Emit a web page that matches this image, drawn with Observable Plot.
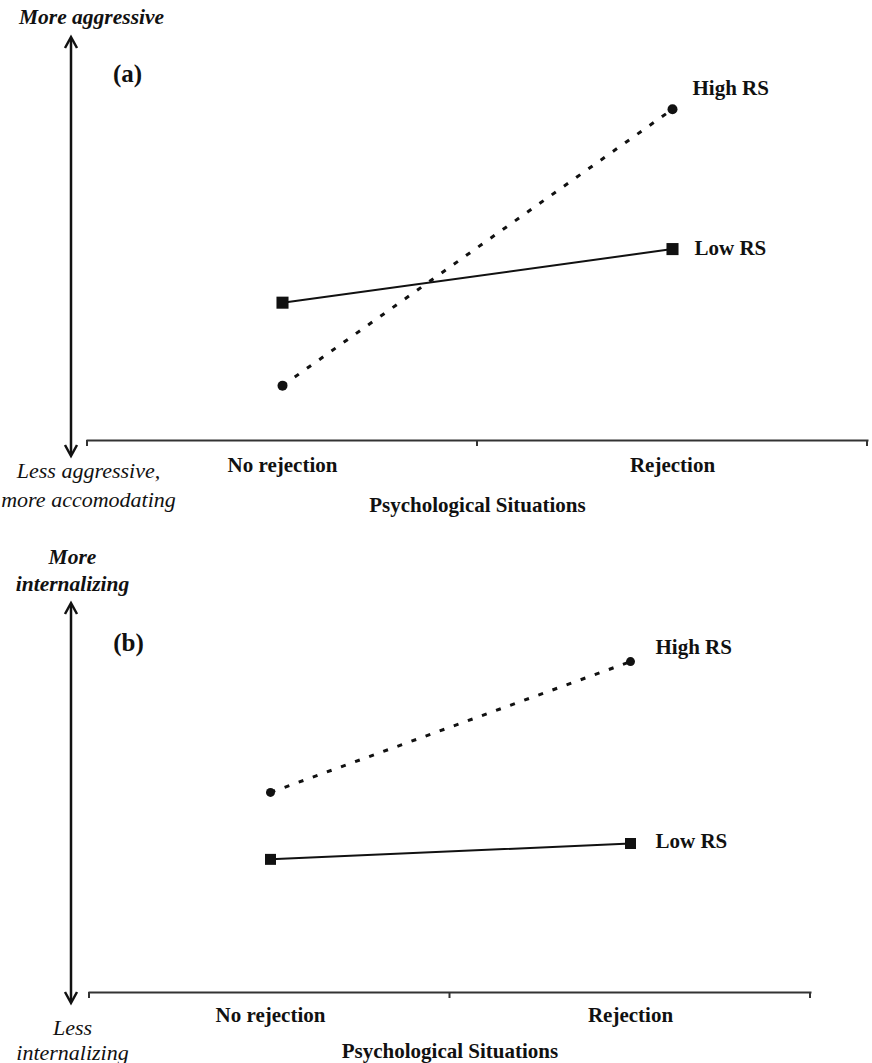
<!DOCTYPE html>
<html><head><meta charset="utf-8">
<script src="https://cdn.jsdelivr.net/npm/d3@7"></script>
<script src="https://cdn.jsdelivr.net/npm/@observablehq/plot@0.6"></script>
<style>
body{margin:0;background:#fff;}
#chart{width:872px;}
#chart svg{display:block;}
</style></head><body><div id="chart"></div>
<script>
// ---- data ----
const situations = ["No rejection", "Rejection"];
const groups = ["High RS", "Low RS"];
// Panel (a): aggressive vs accommodating responses
const aggHigh = [1.36, 8.22];
const aggLow = [3.42, 4.75];
// Panel (b): internalizing responses
const intHigh = [5.17, 8.55];
const intLow = [3.44, 3.85];
const panelNames = ["(a)", "(b)"];
const topLabels = ["More aggressive", "More\ninternalizing"];
const bottomLabels = ["Less aggressive,\nmore accomodating", "Less\ninternalizing"];
const xLabel = "Psychological Situations";

const FONT = "'Liberation Serif', 'Times New Roman', serif";
const INK = "#111";

function rows(high, low) {
  const out = [];
  situations.forEach((s, i) => {
    out.push({situation: s, group: groups[0], value: high[i]});
    out.push({situation: s, group: groups[1], value: low[i]});
  });
  return out;
}

function panel(cfg) {
  const data = rows(cfg.high, cfg.low);
  const hi = data.filter(d => d.group === groups[0]);
  const lo = data.filter(d => d.group === groups[1]);
  const last = data.filter(d => d.situation === situations[1]);
  const chart = Plot.plot({
    width: 872,
    height: cfg.height,
    marginLeft: cfg.ml, marginRight: cfg.mr, marginTop: cfg.mt, marginBottom: cfg.mb,
    style: {fontFamily: FONT, color: INK, background: "#fff", overflow: "visible"},
    x: {domain: situations, padding: 0, type: "band"},
    y: {domain: [0, 10], axis: null},
    marks: [
      Plot.axisX({tickSize: 0, tickPadding: cfg.tickPad, fontSize: 21, fontWeight: "bold", label: null, fill: INK}),
      Plot.frame({anchor: "bottom", stroke: "#333", strokeWidth: 2}),
      Plot.line(hi, {x: "situation", y: "value", stroke: INK, strokeWidth: 3, strokeDasharray: "5,10", strokeLinecap: "butt"}),
      Plot.line(lo, {x: "situation", y: "value", stroke: INK, strokeWidth: 2}),
      Plot.dot(hi, {x: "situation", y: "value", r: cfg.cr, fill: INK, symbol: "circle"}),
      Plot.dot(lo, {x: "situation", y: "value", r: cfg.sr, fill: INK, symbol: "square"}),
      Plot.text(last.filter(d => d.group === groups[0]), {x: "situation", y: "value", text: "group", textAnchor: "start", dx: cfg.hdx, dy: cfg.hdy, fontSize: 21, fontWeight: "bold", fill: INK}),
      Plot.text(last.filter(d => d.group === groups[1]), {x: "situation", y: "value", text: "group", textAnchor: "start", dx: cfg.ldx, dy: cfg.ldy, fontSize: 21, fontWeight: "bold", fill: INK}),
      Plot.text([cfg.name], {frameAnchor: "top-left", dx: cfg.ndx, dy: cfg.ndy, textAnchor: "middle", fontSize: 25, fontWeight: "bold", fill: INK}),
      Plot.text([cfg.top], {frameAnchor: "top-left", dx: cfg.tdx, dy: cfg.tdy, textAnchor: "middle", lineAnchor: "middle", lineHeight: cfg.tlh, fontSize: 21.5, fontWeight: "bold", fontStyle: "italic", fill: INK}),
      Plot.text([cfg.bottom], {frameAnchor: "bottom-left", dx: cfg.bdx, dy: cfg.bdy, textAnchor: "middle", lineAnchor: "middle", lineHeight: cfg.blh, fontSize: 22, fontStyle: "italic", fill: INK}),
      Plot.text([xLabel], {frameAnchor: "bottom", dy: cfg.xdy, textAnchor: "middle", lineAnchor: "middle", fontSize: 21, fontWeight: "bold", fill: INK})
    ]
  });
  // decorations: band-boundary ticks and the double-headed arrow
  const sx = chart.scale("x");
  const [r0, r1] = sx.range;
  const step = (r1 - r0) / situations.length;
  const yb = cfg.height - cfg.mb;
  const svg = d3.select(chart);
  const g = svg.append("g").attr("stroke", "#333").attr("stroke-width", 2);
  for (let i = 0; i <= situations.length; i++) {
    const x = r0 + i * step;
    g.append("line").attr("x1", x).attr("x2", x).attr("y1", yb).attr("y2", yb + 6);
  }
  const ax = 71, at = cfg.arrowTop, ab = yb + cfg.arrowBelow;
  const a = svg.append("g").attr("stroke", INK).attr("stroke-width", 2.5).attr("fill", "none");
  a.append("line").attr("x1", ax).attr("x2", ax).attr("y1", at + 1).attr("y2", ab - 1);
  a.append("polyline").attr("points", `${ax-6},${at+11} ${ax},${at} ${ax+6},${at+11}`);
  a.append("polyline").attr("points", `${ax-6},${ab-11} ${ax},${ab} ${ax+6},${ab-11}`);
  return chart;
}

const root = document.getElementById("chart");
root.appendChild(panel({
  high: aggHigh, low: aggLow, name: panelNames[0], top: topLabels[0], bottom: bottomLabels[0],
  height: 530, ml: 87, mr: 5, mt: 37, mb: 90, tickPad: 17,
  cr: 5, sr: 6.8,
  hdx: 20, hdy: -21, ldx: 22, ldy: -1,
  ndx: 40, ndy: 27,
  tdx: 4, tdy: -22, tlh: 1.3,
  bdx: 1, bdy: 43, blh: 1.32,
  xdy: 65,
  arrowTop: 37, arrowBelow: 16
}));
root.appendChild(panel({
  high: intHigh, low: intLow, name: panelNames[1], top: topLabels[1], bottom: bottomLabels[1],
  height: 533, ml: 89, mr: 62, mt: 75, mb: 71, tickPad: 15,
  cr: 4.5, sr: 6.2,
  hdx: 25, hdy: -14, ldx: 25, ldy: -2,
  ndx: 39, ndy: 28,
  tdx: -17, tdy: -37, tlh: 1.26,
  bdx: -17, bdy: 47, blh: 1.14,
  xdy: 59,
  arrowTop: 73, arrowBelow: 11
}));
</script>
</body></html>
